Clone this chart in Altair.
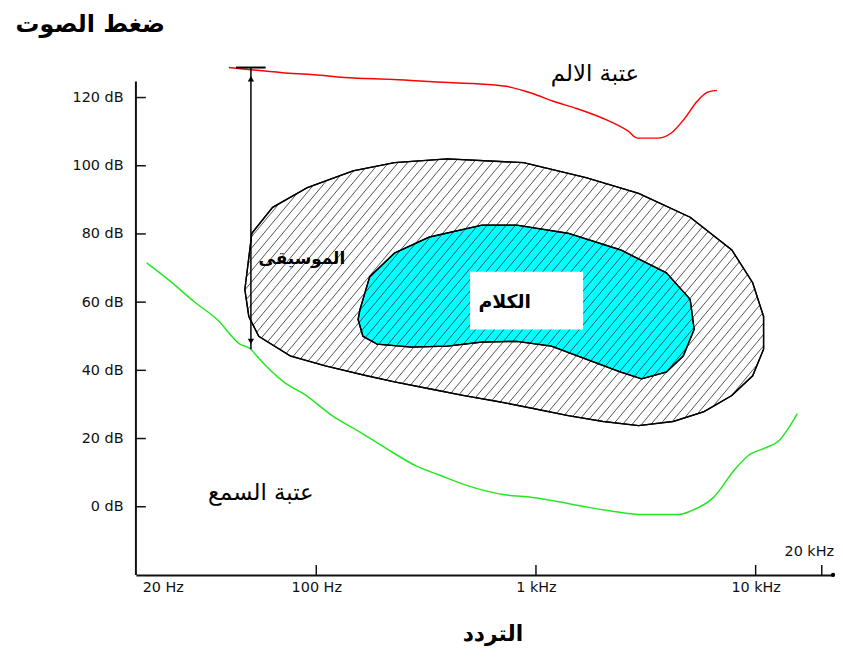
import math
import pandas as pd
import altair as alt

# ---------------- data ----------------
# pain threshold (red)
PAIN_FREQ = [40, 70, 98, 134, 225, 400, 520, 730, 965, 1200, 1510, 2000, 2620, 2900,
             3570, 4130, 4730, 5420, 6010, 6670]
PAIN_DB = [128.8, 127.3, 126.7, 125.9, 125.3, 124.4, 124.1, 123.3, 121.2, 118.9, 116.9,
           114.0, 110.2, 108.1, 108.1, 109.6, 113.7, 118.9, 121.5, 122.1]

# hearing threshold (green)
HEAR_FREQ = [16.9, 21.2, 28.1, 35.4, 44.9, 50.4, 53.6, 71.0, 90.1, 118, 156, 207, 286, 363,
             476, 721, 915, 1212, 1588, 2309, 3057, 4446, 5088, 6395, 8122, 9299, 11211,
             12833, 14093, 15475]
HEAR_DB = [71.5, 66.6, 59.9, 54.9, 47.7, 46.2, 44.2, 36.6, 32.6, 26.7, 22.1, 17.2, 11.9, 9.3,
           6.4, 3.5, 2.9, 1.7, 0.3, -1.5, -2.3, -2.3, -1.2, 2.6, 11.3, 15.1, 17.4, 19.5,
           23.0, 27.3]

# music region outline (hatched)
MUSIC_FREQ = [47.3, 50.9, 63.3, 91.1, 147, 227, 395, 878, 1690, 2933, 5035, 7791, 9694,
              10867, 10867, 9694, 7791, 5825, 4220, 2933, 2017, 1402, 974, 677, 471, 327,
              227, 170, 110, 76.3, 54.7, 49.3]
MUSIC_DB = [63.7, 80.2, 87.8, 93.6, 98.5, 100.9, 102.0, 100.9, 96.5, 91.9, 84.9, 75.3, 65.7,
            55.8, 46.2, 38.4, 32.6, 27.9, 25.0, 23.8, 25.0, 26.7, 28.8, 30.8, 32.6, 34.6,
            36.6, 38.4, 41.3, 44.2, 50.0, 55.8]

# speech region outline (cyan)
SPEECH_FREQ = [158, 175, 227, 327, 568, 817, 1402, 2432, 3924, 5035, 5250, 4682, 3924, 3025,
               2432, 1690, 1175, 817, 568, 395, 271, 189, 163, 155]
SPEECH_DB = [57.8, 67.4, 74.4, 79.1, 82.6, 82.6, 80.2, 75.3, 68.6, 60.8, 52.0, 44.2, 39.5,
             37.5, 39.5, 43.3, 47.1, 48.5, 48.3, 47.1, 46.8, 47.7, 50.0, 54.9]

# music dynamic range arrow (frequency, from dB, to dB)
ARROW_FREQ = 50.4
ARROW_TOP_DB = 128.8
ARROW_BOTTOM_DB = 46.2

# axes
Y_TICKS = [0, 20, 40, 60, 80, 100, 120]
X_LABEL_VALUES = [20, 100, 1000, 10000]
X_LABELS = ["20 Hz", "100 Hz", "1 kHz", "10 kHz"]
X_TICKS = [100, 1000, 10000, 20000]

# texts
TITLE_Y = "ضغط الصوت"
TITLE_X = "التردد"
ANNOT_TEXT = ["عتبة الالم", "عتبة السمع"]
ANNOT_FREQ = [1856, 55.9]
ANNOT_DB = [127.0, 4.1]
MUSIC_TEXT = "الموسيقى"
MUSIC_TEXT_POS = (86, 72.7)
SPEECH_TEXT = "الكلام"

# ---------------- layout ----------------
W, H = 703, 533
XMIN, XMAX = 15.1, 22500
YMIN, YMAX = -20, 135
AXIS_TOP_DB = 124.7
AR_FONT = "DejaVu Sans"

LOGMIN, LOGMAX = math.log10(XMIN), math.log10(XMAX)


def to_px(f, db):
    return ((math.log10(f) - LOGMIN) / (LOGMAX - LOGMIN) * W,
            (db - YMIN) / (YMAX - YMIN) * H)


def from_px(x, y):
    return (10 ** (LOGMIN + x / W * (LOGMAX - LOGMIN)),
            YMIN + y / H * (YMAX - YMIN))


# hatch segments clipped to the music outline
poly = [to_px(f, d) for f, d in zip(MUSIC_FREQ, MUSIC_DB)]
slope = 1.2
step = 9.5 * slope
cvals = [y - slope * x for x, y in poly]
rows = []
c = min(cvals) + step / 2
n = len(poly)
while c < max(cvals):
    xs = []
    for i in range(n):
        (x1, y1), (x2, y2) = poly[i], poly[(i + 1) % n]
        g1 = y1 - slope * x1 - c
        g2 = y2 - slope * x2 - c
        if (g1 < 0) != (g2 < 0):
            t = g1 / (g1 - g2)
            xs.append(x1 + t * (x2 - x1))
    xs.sort()
    for j in range(0, len(xs) - 1, 2):
        xa, xb = xs[j], xs[j + 1]
        fa, da = from_px(xa, slope * xa + c)
        fb, dbb = from_px(xb, slope * xb + c)
        rows.append({"f": fa, "db": da, "f2": fb, "db2": dbb})
    c += step
hatch_df = pd.DataFrame(rows)

# ---------------- encodings ----------------
label_expr = " : ".join(
    [f"datum.value < {v * 1.5} ? '{lab}'" for v, lab in zip(X_LABEL_VALUES[:-1], X_LABELS[:-1])]
    + [f"'{X_LABELS[-1]}'"]
)
X = alt.X("f:Q", scale=alt.Scale(type="log", domain=[XMIN, XMAX], nice=False),
          axis=alt.Axis(values=X_LABEL_VALUES, labelExpr=label_expr, ticks=False,
                        domainColor="#111", domainWidth=2, labelPadding=6,
                        labelFont="DejaVu Sans", labelFontSize=14.5, labelColor="#111",
                        grid=False, title=None, labelFlush=False))
Y = alt.Y("db:Q", scale=alt.Scale(domain=[YMIN, YMAX], nice=False, zero=False),
          axis=alt.Axis(values=Y_TICKS, labelExpr="datum.value + ' dB'", ticks=False,
                        domain=False, labelPadding=13, labelFont="DejaVu Sans",
                        labelFontSize=14.5, labelColor="#111", grid=False, title=None))

music_df = pd.DataFrame({"f": MUSIC_FREQ, "db": MUSIC_DB, "i": range(len(MUSIC_FREQ))})
speech_df = pd.DataFrame({"f": SPEECH_FREQ, "db": SPEECH_DB, "i": range(len(SPEECH_FREQ))})
pain_df = pd.DataFrame({"f": PAIN_FREQ, "db": PAIN_DB})
hear_df = pd.DataFrame({"f": HEAR_FREQ, "db": HEAR_DB})

music_fill = alt.Chart(music_df).mark_line(
    interpolate="linear-closed", fill="white", stroke="black", strokeWidth=1.3
).encode(x=X, y=Y, order="i:Q")

speech_fill = alt.Chart(speech_df).mark_line(
    interpolate="linear-closed", fill="#00FFFF", stroke="black", strokeWidth=1.3
).encode(x=X, y=Y, order="i:Q")

hatch = alt.Chart(hatch_df).mark_rule(color="#2a2a2a", strokeWidth=0.8).encode(
    x=X, y=Y, x2="f2:Q", y2="db2:Q")

music_outline = alt.Chart(music_df).mark_line(
    interpolate="linear-closed", stroke="black", strokeWidth=1.4
).encode(x=X, y=Y, order="i:Q")
speech_outline = alt.Chart(speech_df).mark_line(
    interpolate="linear-closed", stroke="black", strokeWidth=1.4
).encode(x=X, y=Y, order="i:Q")

# white label box for speech
box_df = pd.DataFrame({"f": [501], "f2": [1639], "db": [68.9], "db2": [52.0]})
box = alt.Chart(box_df).mark_rect(fill="white").encode(x=X, x2="f2:Q", y=Y, y2="db2:Q")
speech_label = alt.Chart(pd.DataFrame({"f": [720.7], "db": [59.9], "t": [SPEECH_TEXT]})).mark_text(
    font=AR_FONT, fontSize=19, fontWeight="bold", color="black").encode(x=X, y=Y, text="t:N")

pain_line = alt.Chart(pain_df).mark_line(color="#ff0000", strokeWidth=1.5,
                                         interpolate="monotone").encode(x=X, y=Y)
hear_line = alt.Chart(hear_df).mark_line(color="#22e822", strokeWidth=1.5,
                                         interpolate="monotone").encode(x=X, y=Y)

arrow_df = pd.DataFrame({"f": [ARROW_FREQ], "db": [ARROW_TOP_DB], "db2": [ARROW_BOTTOM_DB]})
arrow = alt.Chart(arrow_df).mark_rule(color="black", strokeWidth=1.5).encode(
    x=X, y=Y, y2="db2:Q")
arrow_cap = alt.Chart(pd.DataFrame({"f": [43.1], "f2": [58.8], "db": [ARROW_TOP_DB]})).mark_rule(
    color="black", strokeWidth=2).encode(x=X, x2="f2:Q", y=Y)
heads = alt.Chart(pd.DataFrame({"f": [ARROW_FREQ, ARROW_FREQ],
                                "db": [ARROW_TOP_DB - 3.3, ARROW_BOTTOM_DB + 2.3],
                                "s": ["triangle-up", "triangle-down"]})).mark_point(
    filled=True, color="black", size=40, opacity=1).encode(
    x=X, y=Y, shape=alt.Shape("s:N", scale=None))

annot = alt.Chart(pd.DataFrame({"f": ANNOT_FREQ, "db": ANNOT_DB, "t": ANNOT_TEXT})).mark_text(
    font=AR_FONT, fontSize=23, color="black").encode(x=X, y=Y, text="t:N")
music_label = alt.Chart(pd.DataFrame({"f": [MUSIC_TEXT_POS[0]], "db": [MUSIC_TEXT_POS[1]],
                                      "t": [MUSIC_TEXT]})).mark_text(
    font=AR_FONT, fontSize=17, fontWeight="bold", color="black").encode(x=X, y=Y, text="t:N")

# axis line / inner ticks
yaxis_line = alt.Chart(pd.DataFrame({"db": [YMIN], "db2": [AXIS_TOP_DB]})).mark_rule(
    color="#111", strokeWidth=2).encode(x=alt.value(0), y=Y, y2="db2:Q")
ytick = alt.Chart(pd.DataFrame({"db": Y_TICKS})).mark_rule(color="#111", strokeWidth=1.5).encode(
    x=alt.value(0), x2=alt.value(10), y=Y)
xtick = alt.Chart(pd.DataFrame({"f": X_TICKS})).mark_rule(color="#111", strokeWidth=1.5).encode(
    x=X, y=alt.value(H), y2=alt.value(H - 10))
end_dot = alt.Chart(pd.DataFrame({"f": [XMAX]})).mark_point(
    filled=True, color="black", size=18, opacity=1).encode(x=alt.value(W), y=alt.value(H))
khz_label = alt.Chart(pd.DataFrame({"t": ["20 kHz"]})).mark_text(
    font="DejaVu Sans", fontSize=14.5, color="#111", align="right").encode(
    x=alt.value(W + 1), y=alt.value(H - 23), text="t:N")

ytitle = alt.Chart(pd.DataFrame({"t": [TITLE_Y]})).mark_text(
    font=AR_FONT, fontSize=24, fontWeight="bold", color="black").encode(
    x=alt.value(-46), y=alt.value(-22), text="t:N")
xtitle = alt.Chart(pd.DataFrame({"t": [TITLE_X]})).mark_text(
    font=AR_FONT, fontSize=22, fontWeight="bold", color="black").encode(
    x=alt.value(360), y=alt.value(593), text="t:N")

chart = alt.layer(
    music_fill, speech_fill, hatch, music_outline, speech_outline, box, speech_label,
    pain_line, hear_line, arrow, arrow_cap, heads, annot, music_label,
    yaxis_line, ytick, xtick, end_dot, khz_label, ytitle, xtitle
).properties(
    width=W, height=H,
    padding={"left": 129, "top": 36, "right": 2, "bottom": 74},
    autosize=alt.AutoSizeParams(type="none"),
    background="white",
).configure_view(stroke=None)

chart.save("out.html", embed_options={"renderer": "svg", "actions": False})
